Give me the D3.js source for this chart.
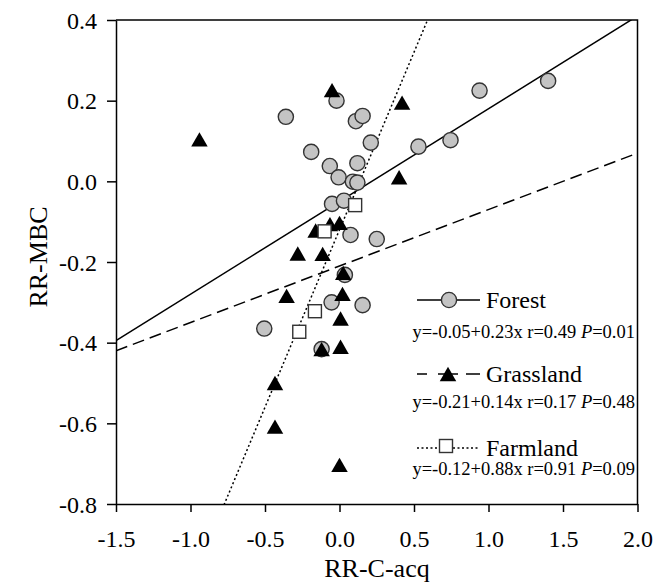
<!DOCTYPE html>
<html>
<head>
<meta charset="utf-8">
<script src="https://cdn.jsdelivr.net/npm/d3@7"></script>
<style>
  html, body { margin: 0; padding: 0; background: #fff; }
  svg { display: block; }
  svg text { font-family: "Liberation Serif", "Times New Roman", serif; fill: #000; }
</style>
</head>
<body>
<svg id="chart" width="656" height="583"></svg>
<script>
// ---- data ----
const forestX = [-0.36, -0.02, 0.11, 0.155, 0.21, 0.53, 0.745, 0.94, 1.40, -0.19, 0.12, -0.065, -0.006, 0.09, 0.12, -0.05, 0.03, 0.074, 0.25, 0.036, -0.053, 0.155, -0.505, -0.12];
const forestY = [0.160, 0.200, 0.149, 0.162, 0.096, 0.086, 0.102, 0.225, 0.249, 0.073, 0.045, 0.038, 0.010, -0.001, -0.003, -0.056, -0.048, -0.133, -0.143, -0.232, -0.300, -0.307, -0.365, -0.416];
const grassX = [-0.94, -0.05, 0.42, 0.40, 0.0, -0.064, -0.16, -0.28, -0.113, 0.025, 0.02, -0.355, 0.007, 0.007, -0.12, -0.433, -0.433, 0.0];
const grassY = [0.104, 0.226, 0.195, 0.010, -0.103, -0.106, -0.122, -0.179, -0.180, -0.227, -0.279, -0.284, -0.340, -0.410, -0.416, -0.500, -0.608, -0.703];
const farmX = [0.105, -0.10, -0.165, -0.27];
const farmY = [-0.059, -0.124, -0.322, -0.373];

const seriesNames = ["Forest", "Grassland", "Farmland"];
const intercepts = [-0.05, -0.21, -0.12];
const slopes = [0.23, 0.14, 0.88];
const eqMain = ["y=-0.05+0.23x r=0.49 ", "y=-0.21+0.14x r=0.17 ", "y=-0.12+0.88x r=0.91 "];
const eqP = ["=0.01", "=0.48", "=0.09"];

const xTicks = [-1.5, -1.0, -0.5, 0.0, 0.5, 1.0, 1.5, 2.0];
const yTicks = [-0.8, -0.6, -0.4, -0.2, 0.0, 0.2, 0.4];
const xDomain = [-1.5, 2.0];
const yDomain = [-0.8, 0.4];

// ---- layout ----
const L = 116, R = 637.5, T = 20, B = 504;
const FONT = "Liberation Serif, Times New Roman, serif";
const svg = d3.select("#chart");
const x = d3.scaleLinear().domain(xDomain).range([L, R]);
const y = d3.scaleLinear().domain(yDomain).range([B, T]);

svg.append("defs").append("clipPath").attr("id", "plotclip")
  .append("rect").attr("x", L).attr("y", T).attr("width", R - L).attr("height", B - T);

// regression lines
const lineStyles = [
  { dash: null, w: 1.5 },
  { dash: "12,6", w: 1.5 },
  { dash: "2,2.5", w: 1.5 }
];
const lg = svg.append("g").attr("clip-path", "url(#plotclip)");
seriesNames.forEach((n, i) => {
  const pts = xDomain.map(v => [v, intercepts[i] + slopes[i] * v]);
  lg.append("path")
    .attr("d", d3.line().x(d => x(d[0])).y(d => y(d[1]))(pts))
    .attr("fill", "none").attr("stroke", "#000")
    .attr("stroke-width", lineStyles[i].w)
    .attr("stroke-dasharray", lineStyles[i].dash);
});

// marker helpers
const triPath = (cx, cy, s) => {
  const h = s * 0.87;
  return `M${cx},${cy - h / 2}L${cx + s / 2},${cy + h / 2}L${cx - s / 2},${cy + h / 2}Z`;
};
function drawCircle(g, cx, cy) {
  g.append("circle").attr("cx", cx).attr("cy", cy).attr("r", 7.6)
    .attr("fill", "#c4c4c4").attr("stroke", "#333").attr("stroke-width", 1.4);
}
function drawTri(g, cx, cy) {
  g.append("path").attr("d", triPath(cx, cy, 16.5)).attr("fill", "#000");
}
function drawSq(g, cx, cy) {
  const s = 13;
  g.append("rect").attr("x", cx - s / 2).attr("y", cy - s / 2).attr("width", s).attr("height", s)
    .attr("fill", "#fff").attr("stroke", "#333").attr("stroke-width", 1.4);
}

const mg = svg.append("g");
forestX.forEach((v, i) => drawCircle(mg, x(v), y(forestY[i])));
grassX.forEach((v, i) => drawTri(mg, x(v), y(grassY[i])));
farmX.forEach((v, i) => drawSq(mg, x(v), y(farmY[i])));

// axes
const xAxis = svg.append("g").attr("transform", `translate(0,${B})`)
  .call(d3.axisBottom(x).tickValues(xTicks).tickFormat(d => d.toFixed(1)).tickSize(8).tickSizeOuter(0).tickPadding(18));
const yAxis = svg.append("g").attr("transform", `translate(${L},0)`)
  .call(d3.axisLeft(y).tickValues(yTicks).tickFormat(d => d.toFixed(1)).tickSize(9).tickSizeOuter(0).tickPadding(10));
[xAxis, yAxis].forEach(a => {
  a.attr("font-family", FONT).attr("font-size", 24);
  a.selectAll("text").attr("fill", "#000").style("font-family", FONT);
  a.selectAll("line").attr("stroke", "#000").attr("stroke-width", 1.5);
  a.select(".domain").attr("stroke", "#000").attr("stroke-width", 1.5);
});
yAxis.selectAll("text").attr("dy", "0.34em");
// frame top & right
svg.append("path").attr("d", `M${L},${T}H${R}V${B}`).attr("fill", "none")
  .attr("stroke", "#000").attr("stroke-width", 1.5);

// axis titles
svg.append("text").attr("x", 377).attr("y", 577).attr("text-anchor", "middle")
  .attr("font-size", 26).text("RR-C-acq");
svg.append("text").attr("transform", "rotate(-90)").attr("x", -257).attr("y", 47)
  .attr("text-anchor", "middle").attr("font-size", 26).text("RR-MBC");

// legend
const legY = [300, 374, 448];
const eqY = [338, 408, 475];
const legG = svg.append("g");
seriesNames.forEach((n, i) => {
  const ly = legY[i];
  if (i === 0) {
    legG.append("line").attr("x1", 417).attr("x2", 480).attr("y1", ly).attr("y2", ly)
      .attr("stroke", "#000").attr("stroke-width", 1.5);
    drawCircle(legG, 449, ly);
  } else if (i === 1) {
    legG.append("line").attr("x1", 417).attr("x2", 480).attr("y1", ly).attr("y2", ly)
      .attr("stroke", "#000").attr("stroke-width", 1.5).attr("stroke-dasharray", "10,11,20,8,14,100");
    drawTri(legG, 448, ly);
  } else {
    legG.append("line").attr("x1", 417).attr("x2", 480).attr("y1", ly).attr("y2", ly)
      .attr("stroke", "#000").attr("stroke-width", 1.5).attr("stroke-dasharray", "2,2.5");
    drawSq(legG, 446, ly - 2);
  }
  legG.append("text").attr("x", 486).attr("y", ly + 8).attr("font-size", 24).text(n);
  const t = legG.append("text").attr("x", 635).attr("y", eqY[i]).attr("text-anchor", "end")
    .attr("font-size", 18.5);
  t.append("tspan").text(eqMain[i]);
  t.append("tspan").attr("font-style", "italic").text("P");
  t.append("tspan").text(eqP[i]);
});
</script>
</body>
</html>
